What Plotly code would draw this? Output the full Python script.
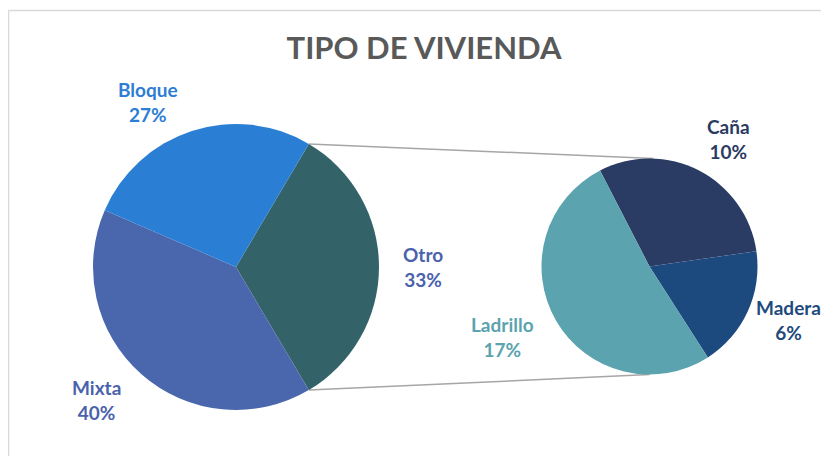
import math
import plotly.graph_objects as go

# ---- data ----
main_labels = ["Otro", "Mixta", "Bloque"]
main_values = [33, 40, 27]
main_colors = ["#336369", "#4A67AE", "#2A7FD5"]
main_text_colors = ["#4A62AC", "#4A62AC", "#2E7DD5"]

sub_labels = ["Caña", "Madera", "Ladrillo"]
sub_values = [10, 6, 17]
sub_colors = ["#2B3C64", "#1C4A7E", "#5BA3AE"]
sub_text_colors = ["#2B3A62", "#1E4A7C", "#5BA3AE"]

title_text = "TIPO DE VIVIENDA"

# ---- layout geometry (pixels in the photographed window) ----
WIN_W, WIN_H = 829, 456
OFF = 8  # page body margin
W, H = WIN_W - OFF, WIN_H - OFF
main_c, main_r = (236, 267), 143
sub_c, sub_r = (649.5, 266.5), 108

def px(x):
    return (x - OFF) / W

def py(y):
    return 1 - (y - OFF) / H

def dom(c, r):
    return dict(x=[px(c[0] - r), px(c[0] + r)], y=[py(c[1] + r), py(c[1] - r)])

# main pie: split slice (first) centred at 3 o'clock
split_span = 360 * main_values[0] / sum(main_values)
main_rot = 90 - split_span / 2          # clockwise-from-12 start angle
sub_rot = -27.25

fig = go.Figure()
fig.add_trace(go.Pie(
    labels=main_labels, values=main_values, sort=False, direction="clockwise",
    rotation=main_rot, marker=dict(colors=main_colors, line=dict(width=0)),
    textinfo="none", hoverinfo="label+value", domain=dom(main_c, main_r),
    showlegend=False,
))
fig.add_trace(go.Pie(
    labels=sub_labels, values=sub_values, sort=False, direction="clockwise",
    rotation=sub_rot, marker=dict(colors=sub_colors, line=dict(width=0)),
    textinfo="none", hoverinfo="label+value", domain=dom(sub_c, sub_r),
    showlegend=False,
))

def edge_point(c, r, cw_angle_deg):
    a = math.radians(cw_angle_deg)
    return c[0] + r * math.sin(a), c[1] - r * math.cos(a)

# connector lines from split-slice edges to top/bottom of the second pie
p_top = edge_point(main_c, main_r, main_rot)
p_bot = edge_point(main_c, main_r, main_rot + split_span)
s_top = (sub_c[0] + 4, sub_c[1] - sub_r)
s_bot = (sub_c[0], sub_c[1] + sub_r)
shapes = []
for a, b in [(p_top, s_top), (p_bot, s_bot)]:
    shapes.append(dict(type="line", xref="paper", yref="paper",
                       x0=px(a[0]), y0=py(a[1]), x1=px(b[0]), y1=py(b[1]),
                       line=dict(color="#A6A6A6", width=1.5), layer="below"))
# chart border (top and left edges visible in the window)
border = dict(color="#D9D9D9", width=1.5)
shapes.append(dict(type="line", xref="paper", yref="paper",
                   x0=px(8.5), y0=py(10.5), x1=1, y1=py(10.5), line=border))
shapes.append(dict(type="line", xref="paper", yref="paper",
                   x0=px(8.5), y0=py(10.5), x1=px(8.5), y1=0, line=border))

def mid_angles(values, rot):
    tot = sum(values)
    out, acc = [], rot
    for v in values:
        span = 360 * v / tot
        out.append(acc + span / 2)
        acc += span
    return out

label_font = "Lato, Open Sans, sans-serif"
annotations = []

def add_labels(labels, values, colors, c, r, rot, dists, adjs):
    for lab, v, col, ang, d, adj in zip(labels, values, colors,
                                        mid_angles(values, rot), dists, adjs):
        x, y = edge_point(c, r * d, ang + adj)
        annotations.append(dict(x=px(x), y=py(y), xref="paper", yref="paper",
                                text=f"<b>{lab}<br>{v}%</b>", showarrow=False,
                                font=dict(family=label_font, size=19, color=col),
                                xanchor="center", yanchor="middle"))

add_labels(main_labels, main_values, main_text_colors, main_c, main_r, main_rot,
           [1.31, 1.35, 1.31], [0, 5, -10])
add_labels(sub_labels, sub_values, sub_text_colors, sub_c, sub_r, sub_rot,
           [1.39, 1.38, 1.51], [4.6, -3.5, 4.3])

fig.update_layout(
    width=W, height=H, margin=dict(l=0, r=0, t=0, b=0),
    paper_bgcolor="white", plot_bgcolor="white",
    title=dict(text=f"<b>{title_text}</b>", x=px(424), y=py(48),
               xanchor="center", yanchor="middle",
               font=dict(family=label_font, size=31, color="#595959")),
    shapes=shapes, annotations=annotations,
)

fig.write_html("out.html")
